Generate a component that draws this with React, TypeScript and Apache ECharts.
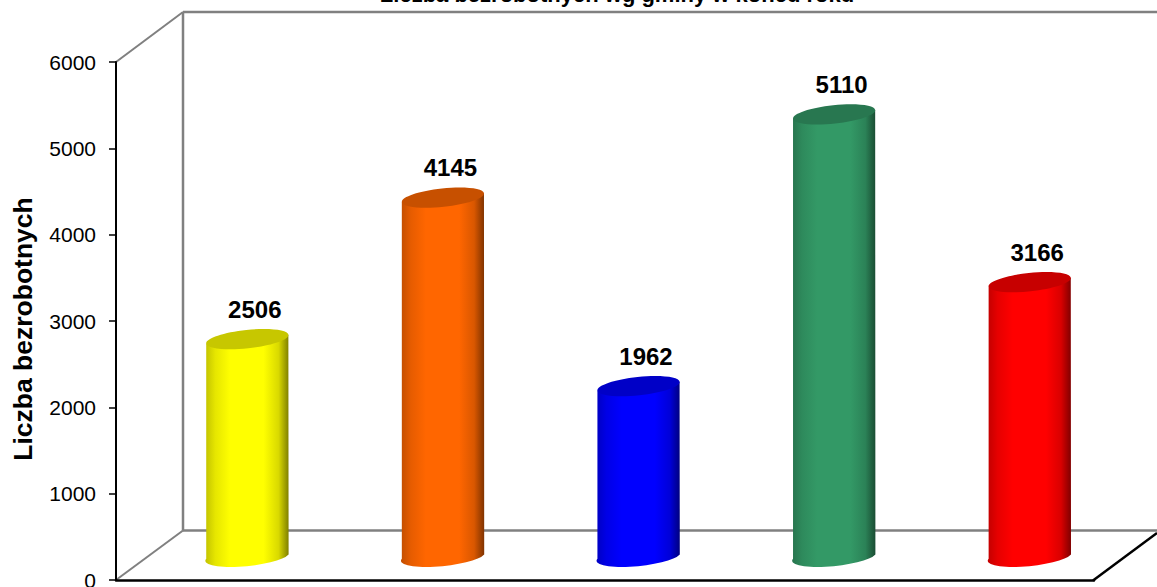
import React, { useEffect, useRef } from "react";
import * as echarts from "echarts";

const categories = ["1", "2", "3", "4", "5"];
const values = [2506, 4145, 1962, 5110, 3166];
const baseColors = ["#ffff00", "#ff6600", "#0000ff", "#339966", "#ff0000"];
const yTicks = [0, 1000, 2000, 3000, 4000, 5000, 6000];
const titleText = "Liczba bezrobotnych wg gminy w końcu roku";
const yAxisTitle = "Liczba bezrobotnych";

const FONT = '"Liberation Sans", Arial, sans-serif';
const GREY = "#808080";

function shade(hex: string, k: number) {
  const n = parseInt(hex.slice(1), 16);
  const r = Math.round(((n >> 16) & 255) * k);
  const g = Math.round(((n >> 8) & 255) * k);
  const b = Math.round((n & 255) * k);
  return `rgb(${r},${g},${b})`;
}

const depthX = 33;
const depthY = 25;
const rx = 41.3;
const ry = 9.2;
const tilt = -6;
const dxTilt = rx * Math.cos((tilt * Math.PI) / 180);
const dyTilt = rx * Math.sin((tilt * Math.PI) / 180);

function renderCylinder(params: any, api: any) {
  const idx = api.value(0);
  const val = api.value(1);
  const base = baseColors[params.dataIndex];
  const top = api.coord([idx, val]);
  const bottom = api.coord([idx, 0]);
  const cx = top[0] + depthX + 0.5;
  const yT = top[1] - depthY + 0.5;
  const yB = bottom[1] - depthY - 0.5;
  const body =
    `M${cx - dxTilt} ${yT - dyTilt} L${cx - dxTilt} ${yB - dyTilt} ` +
    `A${rx} ${ry} ${tilt} 0 0 ${cx + dxTilt} ${yB + dyTilt} ` +
    `L${cx + dxTilt} ${yT + dyTilt} Z`;
  return {
    type: "group",
    children: [
      {
        type: "path",
        shape: { pathData: body },
        style: {
          fill: {
            type: "linear",
            x: 0,
            y: 0,
            x2: 1,
            y2: 0,
            colorStops: [
              { offset: 0, color: shade(base, 0.76) },
              { offset: 0.12, color: shade(base, 0.9) },
              { offset: 0.3, color: base },
              { offset: 0.7, color: base },
              { offset: 0.88, color: shade(base, 0.85) },
              { offset: 1, color: shade(base, 0.5) },
            ],
          },
        },
      },
      {
        type: "ellipse",
        x: cx,
        y: yT,
        rotation: (-tilt * Math.PI) / 180,
        shape: { cx: 0, cy: 0, rx, ry },
        style: { fill: shade(base, 0.78) },
      },
      {
        type: "text",
        x: cx + 7.5,
        y: yT - 30,
        style: {
          text: String(val),
          font: `bold 24px ${FONT}`,
          fill: "#000",
          textAlign: "center",
          textVerticalAlign: "middle",
        },
      },
    ],
  };
}

export default function App() {
  const ref = useRef<HTMLDivElement>(null);
  useEffect(() => {
    const chart = echarts.init(ref.current!, null, { renderer: "svg" });
    const wall = { stroke: GREY, lineWidth: 2.5 };
    const line = (x1: number, y1: number, x2: number, y2: number, style: any) => ({
      type: "line",
      shape: { x1, y1, x2, y2 },
      style,
      z: 0,
      silent: true,
    });
    chart.setOption({
      animation: false,
      backgroundColor: "#ffffff",
      title: {
        text: titleText,
        left: 612,
        top: -22,
        textAlign: "center",
        textStyle: { fontFamily: FONT, fontWeight: "bold", fontSize: 22, color: "#000" },
      },
      grid: { left: 116, top: 62, width: 978, height: 518, outerBoundsMode: "none" },
      xAxis: {
        type: "category",
        data: categories,
        axisTick: { show: false },
        axisLabel: { show: false },
        axisLine: { lineStyle: { color: "#000", width: 2.5 } },
      },
      yAxis: {
        type: "value",
        min: yTicks[0],
        max: yTicks[yTicks.length - 1],
        interval: 1000,
        splitLine: { show: false },
        axisLine: { show: true, lineStyle: { color: "#000", width: 2 } },
        axisTick: { show: true, length: 7, lineStyle: { color: "#000", width: 1.5 } },
        axisLabel: {
          margin: 20,
          fontFamily: FONT,
          fontSize: 21,
          color: "#000",
          formatter: (v: number) => String(v),
        },
        name: yAxisTitle,
        nameLocation: "middle",
        nameGap: 80,
        nameTextStyle: {
          fontFamily: FONT,
          fontWeight: "bold",
          fontSize: 26.5,
          color: "#000",
          padding: [0, 16, 0, 0],
        },
      },
      graphic: [
        line(183, 12, 183, 530.5, wall),
        line(183, 12, 1157, 12, wall),
        line(183, 530.5, 1157, 530.5, wall),
        line(116, 62, 183, 12, { stroke: GREY, lineWidth: 2 }),
        line(116, 580, 183, 530.5, { stroke: GREY, lineWidth: 2 }),
        line(1093, 580.5, 1157, 533, { stroke: "#000", lineWidth: 2.5 }),
      ],
      series: [
        {
          type: "custom",
          renderItem: renderCylinder,
          encode: { x: 0, y: 1 },
          data: values.map((v, i) => [i, v]),
          clip: false,
          z: 5,
        },
      ],
    });
    return () => chart.dispose();
  }, []);
  return (
    <div
      ref={ref}
      style={{ position: "fixed", left: 0, top: 0, width: 1157, height: 587 }}
    />
  );
}
